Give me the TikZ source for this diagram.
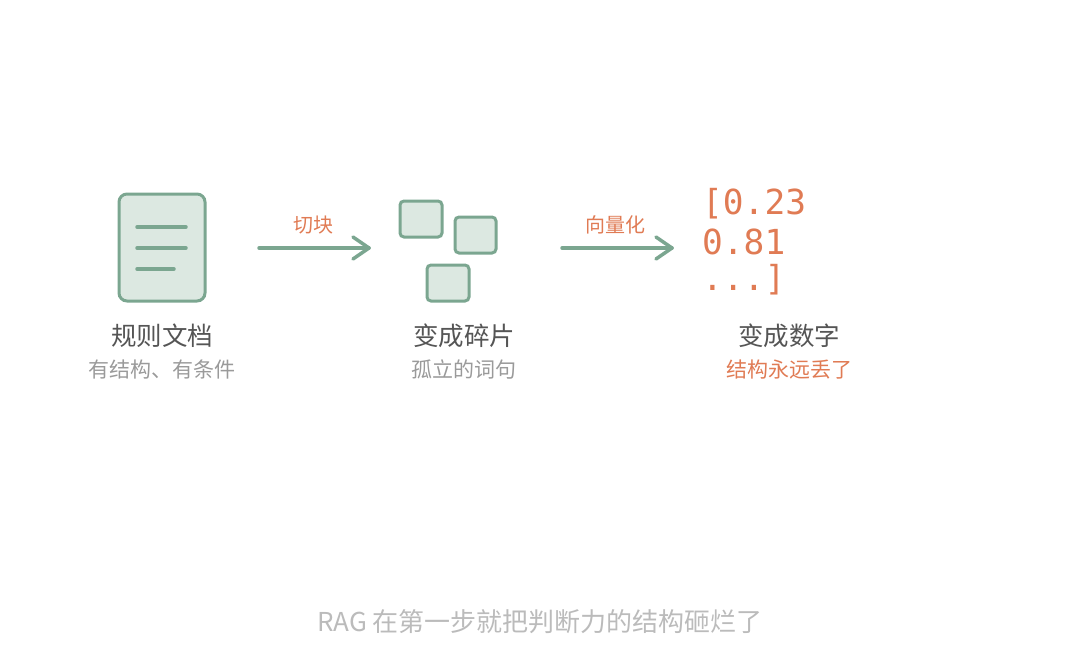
\documentclass[tikz,border=0pt]{standalone}
\usepackage{fontspec}
\setmainfont{Noto Sans CJK SC}
\newfontfamily\cjk{Noto Sans CJK SC}
\newfontfamily\mono{DejaVu Sans Mono}
\definecolor{gr}{HTML}{7BA690}
\definecolor{grf}{HTML}{DCE8E1}
\definecolor{org}{HTML}{E07B54}
\definecolor{dk}{HTML}{555555}
\definecolor{md}{HTML}{9A9A9A}
\definecolor{lt}{HTML}{BBBBBB}
\begin{document}
\begin{tikzpicture}[x=1pt,y=-1pt,
  box/.style={draw=gr,fill=grf,line width=3pt,rounded corners=4pt},
  ln/.style={draw=gr,line width=3.5pt,line cap=round},
  arr/.style={draw=gr,line width=3.5pt,line cap=round,line join=round},
  title/.style={font=\cjk\fontsize{25.5}{28}\selectfont,text=dk},
  sub/.style={font=\cjk\fontsize{21}{24}\selectfont,text=md},
  lab/.style={font=\cjk\fontsize{20}{23}\selectfont,text=org},
  num/.style={font=\mono\fontsize{34.5}{38}\selectfont,text=org,anchor=west,inner sep=0pt}]
\useasboundingbox (0,0) rectangle (1080,670);
\draw[box,rounded corners=8pt] (119,194) rectangle (205,301);
\draw[ln] (137,227) -- (186,227);
\draw[ln] (137,248) -- (186,248);
\draw[ln] (137,269) -- (174,269);
\coordinate (a1s) at (259,248); \coordinate (a1e) at (369,248);
\draw[arr] (a1s) -- (a1e);
\draw[arr] (353,237) -- (369,248) -- (353,259);
\node[lab] (l1) at (313,225) {切块};
\draw[box] (400,201) rectangle (442,237);
\draw[box] (455,217) rectangle (496,253);
\draw[box] (427,265) rectangle (469,301);
\coordinate (a2s) at (562,248); \coordinate (a2e) at (672,248);
\draw[arr] (a2s) -- (a2e);
\draw[arr] (656,237) -- (672,248) -- (656,259);
\node[lab] (l2) at (615,225) {向量化};
\node[num] (n1) at (702,204) {[0.23};
\node[num] (n2) at (702,242) {0.81};
\node[num] (n3) at (702,280) {...]};
\node[title] (t1) at (162,336) {规则文档};
\node[sub] (s1) at (162,370) {有结构、有条件};
\node[title] (t2) at (464,336) {变成碎片};
\node[sub] (s2) at (464,370) {孤立的词句};
\node[title] (t3) at (789,336) {变成数字};
\node[sub,text=org] (s3) at (789,370) {结构永远丢了};
\node[font=\cjk\fontsize{26}{30}\selectfont,text=lt] (b) at (540,622) {RAG 在第一步就把判断力的结构砸烂了};
\end{tikzpicture}
\end{document}
